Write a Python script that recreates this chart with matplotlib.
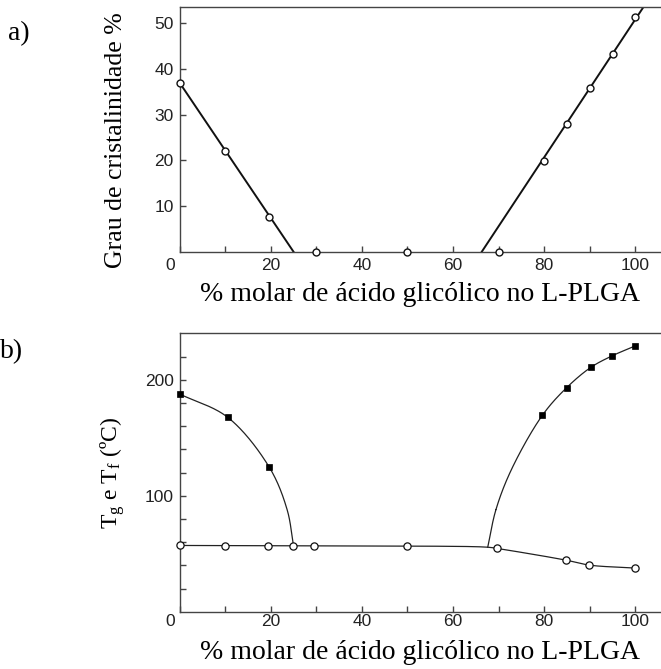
import numpy as np
import matplotlib
matplotlib.use("Agg")
import matplotlib.pyplot as plt
from matplotlib.transforms import ScaledTranslation

plt.rcParams['mathtext.fontset'] = 'custom'
plt.rcParams['mathtext.rm'] = 'Liberation Serif'
plt.rcParams['mathtext.it'] = 'Liberation Serif:italic'

# --- a) grau de cristalinidade ---
gli_a = [0, 10, 19.7, 30, 50, 70, 80, 85, 90, 95, 100]
crist_a = [37, 22, 7.6, 0, 0, 0, 19.9, 27.9, 35.9, 43.3, 51.4]
# retas ajustadas (ramo rico em L-lactídeo e ramo rico em glicolídeo)
reta_esq_x = [0, 25]
reta_esq_y = [37, 0]
reta_dir_x = [66.3, 101.8]
reta_dir_y = [0, 53.6]

# --- b) Tg (círculos) e Tf (quadrados) ---
gli_tg = [0, 10, 19.5, 25, 29.5, 49.8, 69.7, 84.7, 89.8, 100]
tg = [57.1, 57.0, 56.9, 56.9, 56.8, 56.6, 54.5, 44.5, 40.2, 37.6]
gli_tf = [0, 10.6, 19.7, 79.6, 84.9, 90.2, 94.9, 100]
tf = [187.7, 168.2, 124.5, 169.4, 193.1, 210.6, 220.6, 229.2]

# pontos de passagem das curvas traçadas à mão
curva_tg_x = [0, 10, 19.5, 25, 29.5, 49.8, 67.6, 69.7, 84.7, 89.8, 100]
curva_tg_y = [57.1, 57.0, 56.9, 56.9, 56.8, 56.6, 55.6, 54.5, 44.5, 40.2, 37.6]
curva_tf_esq_x = [0, 10.6, 19.7, 23.6, 25.0]
curva_tf_esq_y = [187.7, 167.5, 124.5, 88, 57.1]
curva_tf_dir_x = [67.6, 69.4, 72.85, 79.6, 84.9, 90.2, 94.9, 100]
curva_tf_dir_y = [55.6, 88, 123, 169.4, 193.1, 210.6, 220.6, 229.2]


def catmull_rom(xs, ys, sx, sy, n=40):
    # spline centrípeta, calculada em coordenadas de tela (sx, sy = px por unidade)
    p = np.column_stack([np.asarray(xs, float) * sx, np.asarray(ys, float) * sy])
    p = np.vstack([2 * p[0] - p[1], p, 2 * p[-1] - p[-2]])
    out = []
    for i in range(1, len(p) - 2):
        p0, p1, p2, p3 = p[i - 1], p[i], p[i + 1], p[i + 2]
        t0 = 0.0
        t1 = t0 + np.linalg.norm(p1 - p0) ** 0.5
        t2 = t1 + np.linalg.norm(p2 - p1) ** 0.5
        t3 = t2 + np.linalg.norm(p3 - p2) ** 0.5
        t = np.linspace(t1, t2, n)[:, None]
        a1 = (t1 - t) / (t1 - t0) * p0 + (t - t0) / (t1 - t0) * p1
        a2 = (t2 - t) / (t2 - t1) * p1 + (t - t1) / (t2 - t1) * p2
        a3 = (t3 - t) / (t3 - t2) * p2 + (t - t2) / (t3 - t2) * p3
        b1 = (t2 - t) / (t2 - t0) * a1 + (t - t0) / (t2 - t0) * a2
        b2 = (t3 - t) / (t3 - t1) * a2 + (t - t1) / (t3 - t1) * a3
        c = (t2 - t) / (t2 - t1) * b1 + (t - t1) / (t2 - t1) * b2
        out.append(c)
    c = np.vstack(out)
    return c[:, 0] / sx, c[:, 1] / sy


W, H = 661, 669
fig = plt.figure(figsize=(W / 100, H / 100), dpi=100)
x0 = 179.5
ax_a = fig.add_axes([x0 / W, 1 - 251.7 / H, (W - x0) / W, 245.0 / H])
ax_b = fig.add_axes([x0 / W, 1 - 611.7 / H, (W - x0) / W, 278.4 / H])

XMAX = 105.6
cor_eixo = '#444444'
fonte_serif = 'Liberation Serif'

for ax in (ax_a, ax_b):
    ax.set_xlim(0, XMAX)
    ax.spines['right'].set_visible(False)
    for s in ('left', 'top', 'bottom'):
        ax.spines[s].set_color(cor_eixo)
        ax.spines[s].set_linewidth(1.0)
    ax.set_xticks(range(0, 101, 10))
    ax.set_xticklabels([str(v) if v % 20 == 0 else '' for v in range(0, 101, 10)])
    ax.tick_params(direction='in', length=4.5, width=1.0, color=cor_eixo,
                   labelsize=12.5, labelcolor='#222222')
    for lab in ax.get_xticklabels() + ax.get_yticklabels():
        lab.set_family('Liberation Sans')

# a)
ax_a.set_ylim(0, 53.6)
ax_a.set_yticks([10, 20, 30, 40, 50])
ax_a.tick_params(axis='x', pad=4.8)
ax_a.tick_params(axis='y', pad=4.3)
ax_a.plot(reta_esq_x, reta_esq_y, color='#111111', lw=1.4)
ax_a.plot(reta_dir_x, reta_dir_y, color='#111111', lw=1.4)
ax_a.plot(gli_a, crist_a, 'o', ms=5, mfc='white', mec='#111111', mew=1.0,
          clip_on=False, zorder=3)
ax_a.set_ylabel('Grau de cristalinidade %', family=fonte_serif, fontsize=18.5)
ax_a.yaxis.set_label_coords(-0.109, 0.456)
ax_a.set_xlabel('% molar de ácido glicólico no L-PLGA', family=fonte_serif, fontsize=20)
ax_a.xaxis.set_label_coords(0.5, -0.124)

# b)
ax_b.set_ylim(0, 240)
yt = list(range(20, 221, 20))
ax_b.set_yticks(yt)
ax_b.set_yticklabels([str(v) if v % 100 == 0 else '' for v in yt])
ax_b.tick_params(axis='x', pad=1.3)
ax_b.tick_params(axis='y', pad=4.3)
sx, sy = 481.5 / XMAX, 278.4 / 240
for cx, cy in ((curva_tg_x, curva_tg_y), (curva_tf_esq_x, curva_tf_esq_y),
               (curva_tf_dir_x, curva_tf_dir_y)):
    xx, yy = catmull_rom(cx, cy, sx, sy)
    ax_b.plot(xx, yy, color='#222222', lw=0.9)
ax_b.plot(gli_tg, tg, 'o', ms=5.2, mfc='white', mec='#111111', mew=0.9,
          clip_on=False, zorder=3)
ax_b.plot(gli_tf, tf, 's', ms=5, mfc='black', mec='black', mew=0.5,
          clip_on=False, zorder=3)
ax_b.set_ylabel(r'T$_{\mathrm{g}}$ e T$_{\mathrm{f}}$ (ºC)', family=fonte_serif, fontsize=17)
ax_b.yaxis.set_label_coords(-0.109, 0.5)
ax_b.set_xlabel('% molar de ácido glicólico no L-PLGA', family=fonte_serif, fontsize=20)
ax_b.xaxis.set_label_coords(0.5, -0.1017)

# o rótulo "0" fica deslocado para a esquerda
desloc = ScaledTranslation(-9 / 100, 0, fig.dpi_scale_trans)
for ax in (ax_a, ax_b):
    t0 = ax.xaxis.get_major_ticks()[0]
    t0.label1.set_transform(t0.label1.get_transform() + desloc)

fig.text(8 / W, 1 - 40 / H, 'a)', family=fonte_serif, fontsize=20, va='baseline')
fig.text(0 / W, 1 - 358 / H, 'b)', family=fonte_serif, fontsize=20, va='baseline')

fig.savefig('out.png', dpi=100)
